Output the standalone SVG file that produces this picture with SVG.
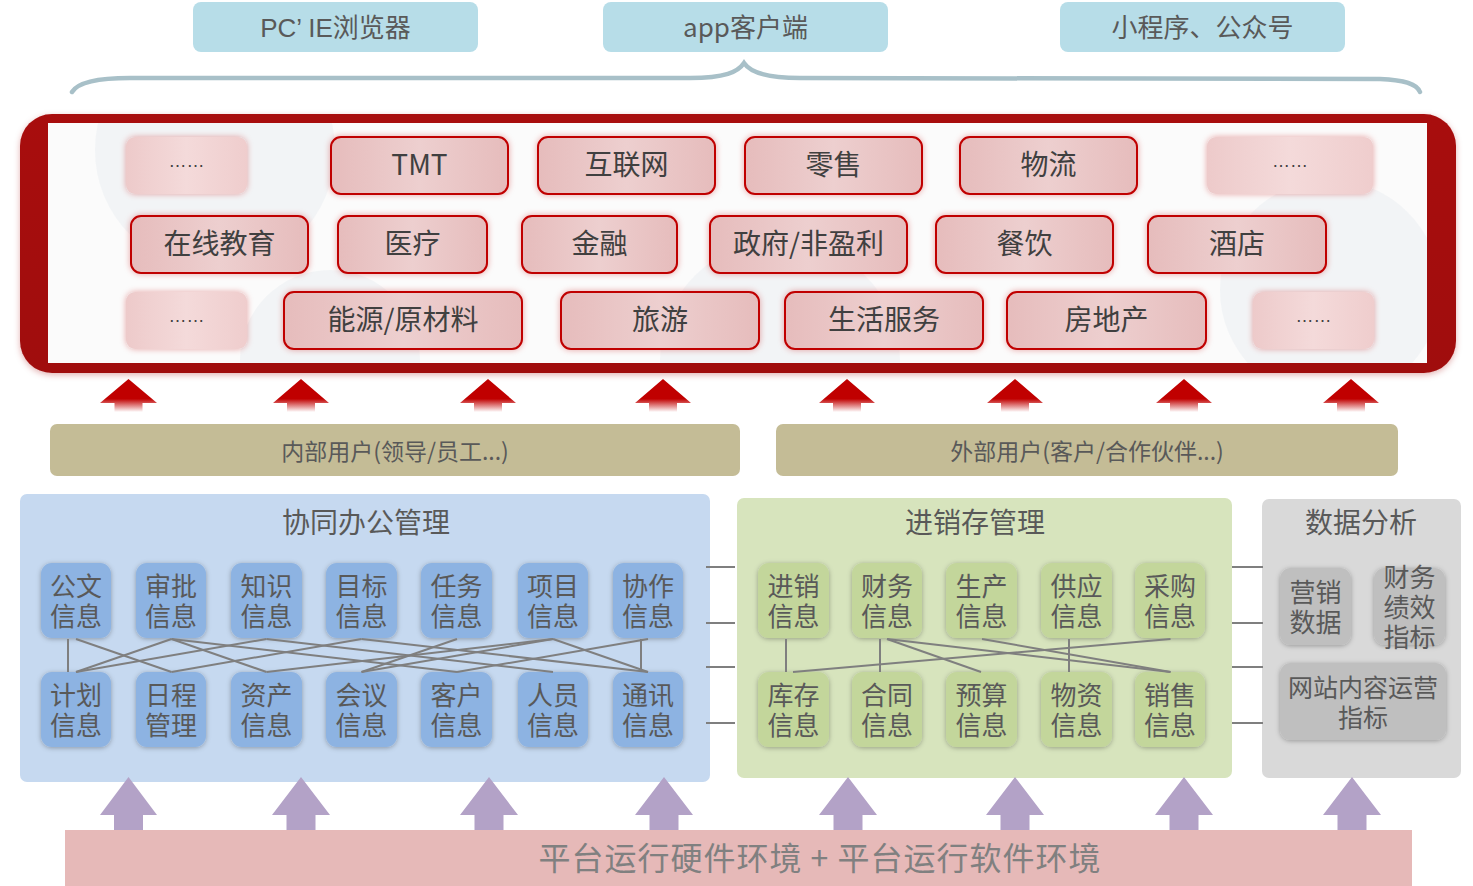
<svg xmlns="http://www.w3.org/2000/svg" width="1473" height="886" viewBox="0 0 1473 886">
<defs>
<style>
.t{font-family:"Noto Sans CJK SC","Liberation Sans",sans-serif;fill:#595959;text-anchor:middle}
.ti{font-family:"Noto Sans CJK SC","Liberation Sans",sans-serif;fill:#404040;text-anchor:middle;font-size:28px}
.dots{font-family:"Liberation Sans",sans-serif;fill:#404040;text-anchor:middle;font-size:18px}
.nt{font-family:"Noto Sans CJK SC","Liberation Sans",sans-serif;fill:#595959;text-anchor:middle;font-size:26px}
.ind{fill:url(#pinkg);stroke:#c00000;stroke-width:2}
.more{fill:url(#pinkl)}
.bn{fill:#8db3e2}
.gn{fill:#c3d69b}
.an{fill:#bfbfbf}
.ln{stroke:#7f7f7f;stroke-width:2;fill:none}
.top{fill:#b7dde8}
.usr{fill:#c4bc96}
</style>
<linearGradient id="pinkg" x1="0" y1="0" x2="1" y2="0">
<stop offset="0" stop-color="#e6bcbc"/>
<stop offset="0.5" stop-color="#edcfcf"/>
<stop offset="1" stop-color="#e6bcbc"/>
</linearGradient>
<linearGradient id="pinkl" x1="0" y1="0" x2="1" y2="0">
<stop offset="0" stop-color="#edcaca"/>
<stop offset="0.5" stop-color="#f4dada"/>
<stop offset="1" stop-color="#efcdcd"/>
</linearGradient>
<linearGradient id="redarr" x1="0" y1="0" x2="0" y2="1">
<stop offset="0" stop-color="#c00000"/>
<stop offset="0.6" stop-color="#c00000"/>
<stop offset="1" stop-color="#ffffff"/>
</linearGradient>
<linearGradient id="frameg" x1="0" y1="0" x2="0" y2="1">
<stop offset="0" stop-color="#a80f0f"/>
<stop offset="1" stop-color="#a00c0c"/>
</linearGradient>
<clipPath id="inner"><rect x="48" y="123" width="1379" height="240"/></clipPath>
<filter id="sh" x="-20%" y="-20%" width="140%" height="140%">
<feDropShadow dx="0" dy="1" stdDeviation="2.5" flood-color="#000" flood-opacity="0.3"/>
</filter>
<filter id="glow" x="-10%" y="-20%" width="120%" height="140%">
<feDropShadow dx="0" dy="0" stdDeviation="3" flood-color="#c00000" flood-opacity="0.35"/>
</filter>
<filter id="fsh" x="-5%" y="-10%" width="110%" height="120%">
<feDropShadow dx="0" dy="2" stdDeviation="3" flood-color="#a00000" flood-opacity="0.3"/>
</filter>
</defs>
<rect width="1473" height="886" fill="#ffffff"/>

<g id="clients">
<g id="pc"><rect class="top" x="193" y="2" width="285" height="50" rx="8"/><text class="t" x="335.5" y="37" font-size="26"><tspan font-family="'Liberation Sans',sans-serif">PC’ IE</tspan>浏览器</text></g>
<g id="app"><rect class="top" x="603" y="2" width="285" height="50" rx="8"/><text class="t" x="745.5" y="37" font-size="26">app客户端</text></g>
<g id="mini"><rect class="top" x="1060" y="2" width="285" height="50" rx="8"/><text class="t" x="1202.5" y="37" font-size="26">小程序、公众号</text></g>
</g>

<g id="brace">
<path d="M72,92 C78,82 100,78 130,78 L690,78 C725,78 738,72 744,63 C750,72 765,78 800,78 L1380,79 C1405,80 1417,84 1420,92" fill="none" stroke="#a8c0c8" stroke-width="4.5" stroke-linecap="round"/>
</g>

<g id="industries">
<rect x="20" y="114" width="1436" height="259" rx="32" fill="url(#frameg)" filter="url(#fsh)"/>
<rect x="48" y="123" width="1379" height="240" fill="#fbfbfb"/>
<g clip-path="url(#inner)" fill="#f0f3f5" opacity="0.8">
<circle cx="215" cy="150" r="120"/>
<circle cx="780" cy="360" r="120"/>
<circle cx="1330" cy="290" r="110"/>
<circle cx="330" cy="360" r="90"/>
</g>
<g filter="url(#glow)">
<rect class="more" x="126" y="137" width="121" height="57" rx="9"/>
<rect class="ind" x="331" y="137" width="177" height="57" rx="10"/>
<rect class="ind" x="538" y="137" width="177" height="57" rx="10"/>
<rect class="ind" x="745" y="137" width="177" height="57" rx="10"/>
<rect class="ind" x="960" y="137" width="177" height="57" rx="10"/>
<rect class="more" x="1207" y="137" width="166" height="57" rx="9"/>
<rect class="ind" x="131" y="216" width="177" height="57" rx="10"/>
<rect class="ind" x="338" y="216" width="149" height="57" rx="10"/>
<rect class="ind" x="522" y="216" width="155" height="57" rx="10"/>
<rect class="ind" x="710" y="216" width="197" height="57" rx="10"/>
<rect class="ind" x="936" y="216" width="177" height="57" rx="10"/>
<rect class="ind" x="1148" y="216" width="178" height="57" rx="10"/>
<rect class="more" x="126" y="292" width="121" height="57" rx="9"/>
<rect class="ind" x="284" y="292" width="238" height="57" rx="10"/>
<rect class="ind" x="561" y="292" width="198" height="57" rx="10"/>
<rect class="ind" x="785" y="292" width="198" height="57" rx="10"/>
<rect class="ind" x="1007" y="292" width="199" height="57" rx="10"/>
<rect class="more" x="1253" y="292" width="121" height="57" rx="9"/>
</g>
<text class="dots" x="186.5" y="167">……</text>
<text class="ti" x="419.5" y="175">TMT</text>
<text class="ti" x="626.5" y="175">互联网</text>
<text class="ti" x="833.5" y="175">零售</text>
<text class="ti" x="1048.5" y="175">物流</text>
<text class="dots" x="1290" y="167">……</text>
<text class="ti" x="219.5" y="254">在线教育</text>
<text class="ti" x="412.5" y="254">医疗</text>
<text class="ti" x="599.5" y="254">金融</text>
<text class="ti" x="808.5" y="254">政府/非盈利</text>
<text class="ti" x="1024.5" y="254">餐饮</text>
<text class="ti" x="1237" y="254">酒店</text>
<text class="dots" x="186.5" y="322">……</text>
<text class="ti" x="403" y="330">能源/原材料</text>
<text class="ti" x="660" y="330">旅游</text>
<text class="ti" x="884" y="330">生活服务</text>
<text class="ti" x="1106.5" y="330">房地产</text>
<text class="dots" x="1313.5" y="322">……</text>
</g>

<g id="red-arrows" fill="url(#redarr)">
<path d="M100,403 L128.5,379 L157,403 L142.5,403 L142.5,412 L114.5,412 L114.5,403 Z"/>
<path d="M273,403 L301,379 L329,403 L315,403 L315,412 L287,412 L287,403 Z"/>
<path d="M460,403 L488,379 L516,403 L502,403 L502,412 L474,412 L474,403 Z"/>
<path d="M635,403 L663,379 L691,403 L677,403 L677,412 L649,412 L649,403 Z"/>
<path d="M819,403 L847,379 L875,403 L861,403 L861,412 L833,412 L833,403 Z"/>
<path d="M987,403 L1015,379 L1043,403 L1029,403 L1029,412 L1001,412 L1001,403 Z"/>
<path d="M1156,403 L1184,379 L1212,403 L1198,403 L1198,412 L1170,412 L1170,403 Z"/>
<path d="M1323,403 L1351,379 L1379,403 L1365,403 L1365,412 L1337,412 L1337,403 Z"/>
</g>

<g id="users">
<g id="internal"><rect class="usr" x="50" y="424" width="690" height="52" rx="7"/><text class="t" x="395" y="460" font-size="23">内部用户(领导/员工...)</text></g>
<g id="external"><rect class="usr" x="776" y="424" width="622" height="52" rx="7"/><text class="t" x="1087" y="460" font-size="23">外部用户(客户/合作伙伴...)</text></g>
</g>

<g id="office">
<rect x="20" y="494" width="690" height="288" rx="7" fill="#c6d9f0"/>
<text class="t" x="366" y="533" font-size="28">协同办公管理</text>
<g filter="url(#sh)">
<rect class="bn" x="41" y="563" width="70" height="75" rx="11"/>
<rect class="bn" x="136" y="563" width="70" height="75" rx="11"/>
<rect class="bn" x="231" y="563" width="71" height="75" rx="11"/>
<rect class="bn" x="326" y="563" width="71" height="75" rx="11"/>
<rect class="bn" x="421" y="563" width="71" height="75" rx="11"/>
<rect class="bn" x="518" y="563" width="70" height="75" rx="11"/>
<rect class="bn" x="613" y="563" width="70" height="75" rx="11"/>
<rect class="bn" x="41" y="672" width="70" height="75" rx="11"/>
<rect class="bn" x="136" y="672" width="70" height="75" rx="11"/>
<rect class="bn" x="231" y="672" width="71" height="75" rx="11"/>
<rect class="bn" x="326" y="672" width="71" height="75" rx="11"/>
<rect class="bn" x="421" y="672" width="71" height="75" rx="11"/>
<rect class="bn" x="518" y="672" width="70" height="75" rx="11"/>
<rect class="bn" x="613" y="672" width="70" height="75" rx="11"/>
</g>
<g class="nt">
<text x="76" y="596">公文<tspan x="76" dy="30">信息</tspan></text>
<text x="171" y="596">审批<tspan x="171" dy="30">信息</tspan></text>
<text x="266.5" y="596">知识<tspan x="266.5" dy="30">信息</tspan></text>
<text x="361.5" y="596">目标<tspan x="361.5" dy="30">信息</tspan></text>
<text x="456.5" y="596">任务<tspan x="456.5" dy="30">信息</tspan></text>
<text x="553" y="596">项目<tspan x="553" dy="30">信息</tspan></text>
<text x="648" y="596">协作<tspan x="648" dy="30">信息</tspan></text>
<text x="76" y="705">计划<tspan x="76" dy="30">信息</tspan></text>
<text x="171" y="705">日程<tspan x="171" dy="30">管理</tspan></text>
<text x="266.5" y="705">资产<tspan x="266.5" dy="30">信息</tspan></text>
<text x="361.5" y="705">会议<tspan x="361.5" dy="30">信息</tspan></text>
<text x="456.5" y="705">客户<tspan x="456.5" dy="30">信息</tspan></text>
<text x="553" y="705">人员<tspan x="553" dy="30">信息</tspan></text>
<text x="648" y="705">通讯<tspan x="648" dy="30">信息</tspan></text>
</g>
</g>

<g id="inventory">
<rect x="737" y="498" width="495" height="280" rx="7" fill="#d7e4bd"/>
<text class="t" x="975" y="533" font-size="28">进销存管理</text>
<g filter="url(#sh)">
<rect class="gn" x="758" y="563" width="71" height="75" rx="11"/>
<rect class="gn" x="852" y="563" width="70" height="75" rx="11"/>
<rect class="gn" x="946" y="563" width="71" height="75" rx="11"/>
<rect class="gn" x="1041" y="563" width="71" height="75" rx="11"/>
<rect class="gn" x="1135" y="563" width="70" height="75" rx="11"/>
<rect class="gn" x="758" y="672" width="71" height="75" rx="11"/>
<rect class="gn" x="852" y="672" width="70" height="75" rx="11"/>
<rect class="gn" x="946" y="672" width="71" height="75" rx="11"/>
<rect class="gn" x="1041" y="672" width="71" height="75" rx="11"/>
<rect class="gn" x="1135" y="672" width="70" height="75" rx="11"/>
</g>
<g class="nt">
<text x="793.5" y="596">进销<tspan x="793.5" dy="30">信息</tspan></text>
<text x="887" y="596">财务<tspan x="887" dy="30">信息</tspan></text>
<text x="981.5" y="596">生产<tspan x="981.5" dy="30">信息</tspan></text>
<text x="1076.5" y="596">供应<tspan x="1076.5" dy="30">信息</tspan></text>
<text x="1170" y="596">采购<tspan x="1170" dy="30">信息</tspan></text>
<text x="793.5" y="705">库存<tspan x="793.5" dy="30">信息</tspan></text>
<text x="887" y="705">合同<tspan x="887" dy="30">信息</tspan></text>
<text x="981.5" y="705">预算<tspan x="981.5" dy="30">信息</tspan></text>
<text x="1076.5" y="705">物资<tspan x="1076.5" dy="30">信息</tspan></text>
<text x="1170" y="705">销售<tspan x="1170" dy="30">信息</tspan></text>
</g>
</g>

<g id="analysis">
<rect x="1262" y="499" width="199" height="279" rx="7" fill="#d9d9d9"/>
<text class="t" x="1361" y="533" font-size="28">数据分析</text>
<g filter="url(#sh)">
<rect class="an" x="1280" y="568" width="71" height="77" rx="11"/>
<rect class="an" x="1374" y="568" width="71" height="77" rx="11"/>
<rect class="an" x="1280" y="663" width="166" height="77" rx="11"/>
</g>
<g class="nt">
<text x="1315.5" y="602">营销<tspan x="1315.5" dy="30">数据</tspan></text>
<text x="1409.5" y="587">财务<tspan x="1409.5" dy="30">绩效</tspan><tspan x="1409.5" dy="30">指标</tspan></text>
<text x="1363" y="697" font-size="25">网站内容运营<tspan x="1363" dy="30">指标</tspan></text>
</g>
</g>

<g id="connectors" class="ln">
<line x1="68" y1="639" x2="68" y2="672"/>
<line x1="641" y1="639" x2="641" y2="672"/>
<line x1="76" y1="639" x2="171.5" y2="672"/>
<line x1="171.5" y1="639" x2="76" y2="672"/>
<line x1="266.5" y1="639" x2="76" y2="672"/>
<line x1="171.5" y1="639" x2="266.5" y2="672"/>
<line x1="171.5" y1="639" x2="457" y2="672"/>
<line x1="361.5" y1="639" x2="171.5" y2="672"/>
<line x1="266.5" y1="639" x2="553" y2="672"/>
<line x1="553" y1="639" x2="266.5" y2="672"/>
<line x1="361.5" y1="639" x2="648" y2="672"/>
<line x1="457" y1="639" x2="361.5" y2="672"/>
<line x1="553" y1="639" x2="361.5" y2="672"/>
<line x1="553" y1="639" x2="648" y2="672"/>
<line x1="648" y1="639" x2="457" y2="672"/>
<line x1="786" y1="639" x2="786" y2="672"/>
<line x1="880" y1="639" x2="880" y2="672"/>
<line x1="1069" y1="639" x2="1069" y2="672"/>
<line x1="887" y1="639" x2="981" y2="672"/>
<line x1="887" y1="639" x2="1170.5" y2="672"/>
<line x1="982" y1="639" x2="1170.5" y2="672"/>
<line x1="1170.5" y1="639" x2="793" y2="672"/>
<line x1="706" y1="567" x2="735" y2="567"/>
<line x1="706" y1="623" x2="735" y2="623"/>
<line x1="706" y1="667" x2="735" y2="667"/>
<line x1="706" y1="723" x2="735" y2="723"/>
<line x1="1232" y1="567" x2="1263" y2="567"/>
<line x1="1232" y1="623" x2="1263" y2="623"/>
<line x1="1232" y1="667" x2="1263" y2="667"/>
<line x1="1232" y1="723" x2="1263" y2="723"/>
</g>

<g id="purple-arrows" fill="#b3a2c7">
<path d="M100,815 L128.5,777 L157,815 L143,815 L143,831 L114,831 L114,815 Z"/>
<path d="M272,815 L301,777 L330,815 L315.5,815 L315.5,831 L286.5,831 L286.5,815 Z"/>
<path d="M460,815 L489,777 L518,815 L503.5,815 L503.5,831 L474.5,831 L474.5,815 Z"/>
<path d="M635,815 L664,777 L693,815 L678.5,815 L678.5,831 L649.5,831 L649.5,815 Z"/>
<path d="M819,815 L848,777 L877,815 L862.5,815 L862.5,831 L833.5,831 L833.5,815 Z"/>
<path d="M986,815 L1015,777 L1044,815 L1029.5,815 L1029.5,831 L1000.5,831 L1000.5,815 Z"/>
<path d="M1155,815 L1184,777 L1213,815 L1198.5,815 L1198.5,831 L1169.5,831 L1169.5,815 Z"/>
<path d="M1323,815 L1352,777 L1381,815 L1366.5,815 L1366.5,831 L1337.5,831 L1337.5,815 Z"/>
</g>

<g id="platform">
<rect x="65" y="830" width="1347" height="56" fill="#e6b9b8"/>
<text x="820" y="870" font-family="'Noto Sans CJK SC','Liberation Sans',sans-serif" font-size="32" letter-spacing="1" fill="#808080" text-anchor="middle">平台运行硬件环境 + 平台运行软件环境</text>
</g>
</svg>
